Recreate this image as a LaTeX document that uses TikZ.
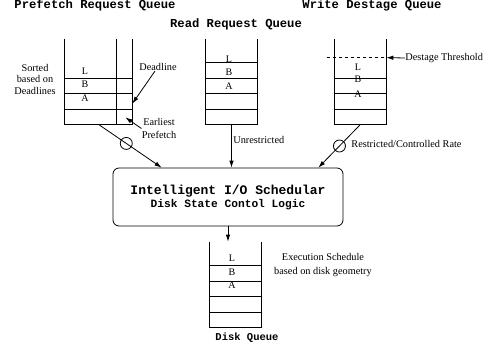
\documentclass[tikz,border=0pt]{standalone}
\usepackage{fontspec}
\setmainfont{Liberation Serif}
\setmonofont{Liberation Mono}
\usetikzlibrary{arrows.meta}
\usetikzlibrary{positioning}

\begin{document}
\begin{tikzpicture}[x=1pt, y=-1pt,
    % Stil fuer Warteschlangen
    queue/.style={rectangle, minimum width=51pt, minimum height=85pt, inner sep=0pt},
    cell/.style={font=\fontsize{10}{11}\selectfont, inner sep=0pt},
    % Stil fuer Ueberschriften
    title/.style={font=\ttfamily\bfseries\fontsize{12.2}{14}\selectfont},
    note/.style={font=\fontsize{10.3}{11.5}\selectfont, inner sep=0pt, align=center},
    % Stil fuer den Scheduler
    sched/.style={rectangle, rounded corners=6pt, draw, minimum width=230pt, minimum height=58pt, align=center, font=\ttfamily\bfseries},
    ring/.style={circle, draw, minimum size=12pt, inner sep=0pt},
    >={Latex[length=7pt,width=4.5pt]}, line width=0.8pt]
    \useasboundingbox (0,0) rectangle (488,351);

    % Knoten
    \node[queue, minimum width=67pt] (pq) at (98.5,81.5) {};
    \node[queue] (rq) at (231.5,81.5) {};
    \node[queue] (wq) at (360.5,81.5) {};
    \node[queue] (dq) at (235.5,284.5) {};

    \foreach \q/\n in {pq/3, rq/4, wq/3, dq/4} {
      \draw (\q.north west) -- (\q.south west) -- (\q.south east) -- (\q.north east);
      \foreach \k in {1,...,\n}
        \draw ([yshift=\k*15.5pt]\q.south west) -- ([yshift=\k*15.5pt]\q.south east);
    }
    \draw ([xshift=-16pt]pq.north east) -- ([xshift=-16pt]pq.south east);
    \draw[dashed] ([xshift=-8pt,yshift=-19pt]wq.north west) -- ([yshift=-19pt]wq.north east) coordinate (thr);

    \node[cell] at (85,71) {L};
    \node[cell] at (85,84) {B};
    \node[cell] at (85,98) {A};
    \node[cell] at (229,59) {L};
    \node[cell] at (229,72) {B};
    \node[cell] at (229,86) {A};
    \node[cell] at (358,67) {L};
    \node[cell] at (358,79) {B};
    \node[cell] at (358,94) {A};
    \node[cell] at (232,258) {L};
    \node[cell] at (232,272) {B};
    \node[cell] at (232,285) {A};

    \node[sched] (io) at (228,197) {\fontsize{13}{15}\selectfont Intelligent I/O Schedular\\[1pt]\fontsize{11.2}{13}\selectfont Disk State Contol Logic};

    \node[title] (ptitle) at (95,5.5) {Prefetch Request Queue};
    \node[title] (rtitle) at (236,24) {Read Request Queue};
    \node[title] (wtitle) at (372,5.5) {Write Destage Queue};
    \node[title, font=\ttfamily\bfseries\fontsize{10.5}{12}\selectfont] (dtitle) at (247,338) {Disk Queue};

    \node[note] (sorted) at (35,79) {Sorted\\based on\\Deadlines};
    \node[note] (dline) at (158,67) {Deadline};
    \node[note] (early) at (159,128.5) {Earliest\\[1.5pt]Prefetch};
    \node[note, anchor=west] (unr) at (233,140) {Unrestricted};
    \node[note, anchor=west] (rate) at (351,144) {Restricted/Controlled Rate};
    \node[note, anchor=west] (thresh) at (405,58) {Destage Threshold};
    \node[note] (exec) at (323,265) {Execution Schedule\\[2pt]based on disk geometry};

    % Kanten
    \draw[->] (pq.south) -- node[ring, pos=0.44] {} ([xshift=49pt]io.north west);
    \draw[->] (rq.south) -- (rq.south |- io.north);
    \draw[->] (wq.south) -- node[ring, pos=0.5] {} ([xshift=-25pt]io.north east);
    \draw[->] (io.south) -- (io.south |- dq.north);
    \draw[->] ([xshift=-3pt]dline.south) -- ([yshift=-65pt]pq.north east);
    \draw[->] (early.west) -- ([xshift=-7pt,yshift=7pt]pq.south east);
    \draw[->] (thresh.west) -- (thr);

\end{tikzpicture}
\end{document}
